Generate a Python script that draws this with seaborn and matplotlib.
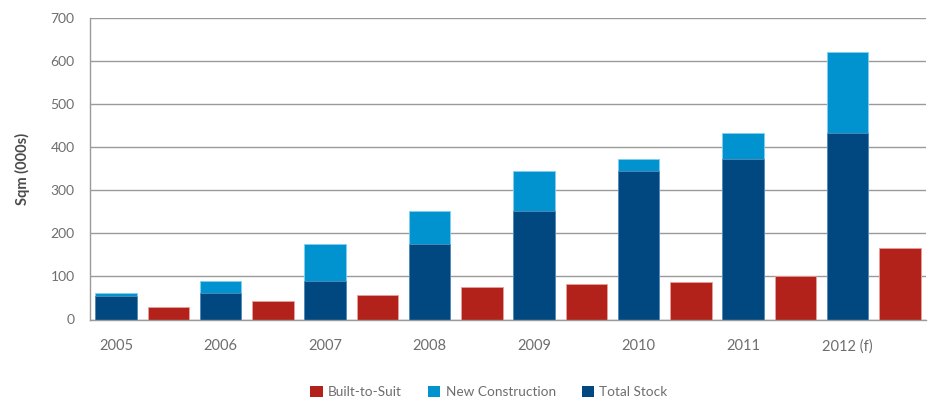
import matplotlib
matplotlib.use("Agg")
import matplotlib.pyplot as plt
from matplotlib.patches import Patch
import pandas as pd
import seaborn as sns

# Warehouse supply, thousands of square metres
years = ["2005", "2006", "2007", "2008", "2009", "2010", "2011", "2012 (f)"]
total_stock = [55, 62, 89, 175, 252, 345, 372, 432]
new_construction = [7, 27, 86, 77, 93, 27, 60, 190]
built_to_suit = [28, 42, 58, 75, 82, 86, 101, 165]

series_names = ["Built-to-Suit", "New Construction", "Total Stock"]
colors = {"Built-to-Suit": "#B2221A", "New Construction": "#0093D0", "Total Stock": "#00487F"}
edges = {"Built-to-Suit": "#E8A09A", "New Construction": "#7FD0F0", "Total Stock": "#5A8DB8"}

sns.set_theme(style="white")
plt.rcParams["font.family"] = ["Lato", "DejaVu Sans"]

# two slots per year: stacked stock/new bar, then the built-to-suit bar
slots = []
for y in years:
    slots += [y, y + " BTS"]

upper = pd.DataFrame({
    "slot": years + [y + " BTS" for y in years],
    "value": [s + n for s, n in zip(total_stock, new_construction)] + built_to_suit,
    "series": ["New Construction"] * len(years) + ["Built-to-Suit"] * len(years),
})
lower = pd.DataFrame({"slot": years, "value": total_stock, "series": "Total Stock"})

fig = plt.figure(figsize=(9.34, 4.01), dpi=100)
ax = fig.add_axes([90 / 934, 81.5 / 401, 836 / 934, 301.5 / 401])

for df in (upper, lower):
    sns.barplot(data=df, x="slot", y="value", hue="series", order=slots,
                palette=colors, dodge=False, width=0.79, saturation=1,
                legend=False, ax=ax, zorder=3)

for patch in ax.patches:
    fc = patch.get_facecolor()
    for name, c in colors.items():
        if matplotlib.colors.to_hex(fc).lower() == c.lower():
            patch.set_edgecolor(edges[name])
            patch.set_linewidth(0.6)

grey = "#9A9A9A"
text_grey = "#6E6E6E"

ax.set_ylim(0, 700)
ax.set_xlim(-0.5, len(slots) - 0.5)
ax.set_yticks(range(0, 701, 100))
ax.yaxis.grid(True, color=grey, linewidth=1.0, zorder=0)
ax.tick_params(axis="y", length=5, color=grey, width=1.0, labelsize=10,
               labelcolor=text_grey, pad=6)

ax.set_xticks([i - 0.5 for i in range(len(slots) + 1)])
ax.set_xticklabels([])
ax.set_xticks([2 * i for i in range(len(years))], minor=True)
ax.set_xticklabels(years, minor=True)
ax.tick_params(axis="x", which="major", length=5, color=grey, width=1.0, direction="out")
ax.tick_params(axis="x", which="minor", length=0, labelsize=10.5,
               labelcolor=text_grey, pad=14)

for side in ("top", "right"):
    ax.spines[side].set_visible(False)
for side in ("left", "bottom"):
    ax.spines[side].set_color(grey)
    ax.spines[side].set_linewidth(1.0)
    ax.spines[side].set_zorder(4)

ax.set_xlabel("")
ax.set_ylabel("Sqm (000s)", fontsize=10.5, fontweight="bold", color="#4A4A4A", labelpad=15)

handles = [Patch(facecolor=colors[n], edgecolor="none") for n in series_names]
fig.legend(handles, series_names, loc="center", bbox_to_anchor=(489 / 934, 1 - 392 / 401),
           ncol=3, frameon=False, fontsize=9.8, labelcolor=text_grey,
           handlelength=0.9, handleheight=0.9, handletextpad=0.4, columnspacing=1.9)

fig.savefig("out.png", dpi=100)
